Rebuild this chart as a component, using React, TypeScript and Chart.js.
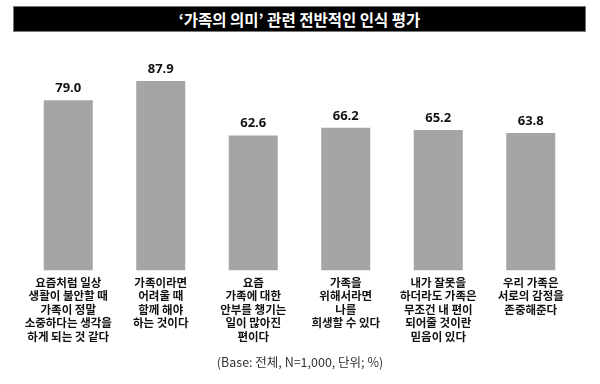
import React, { useEffect, useRef } from "react";
import { Chart, registerables } from "chart.js";

Chart.register(...registerables);

const titleText = "‘가족의 의미’ 관련 전반적인 인식 평가";
const footnoteText = "(Base: 전체, N=1,000, 단위; %)";

const categories: string[][] = [
  ["요즘처럼 일상", "생활이 불안할 때", "가족이 정말", "소중하다는 생각을", "하게 되는 것 같다"],
  ["가족이라면", "어려울 때", "함께 해야", "하는 것이다"],
  ["요즘", "가족에 대한", "안부를 챙기는", "일이 많아진", "편이다"],
  ["가족을", "위해서라면", "나를", "희생할 수 있다"],
  ["내가 잘못을", "하더라도 가족은", "무조건 내 편이", "되어줄 것이란", "믿음이 있다"],
  ["우리 가족은", "서로의 감정을", "존중해준다"],
];
const values: number[] = [79.0, 87.9, 62.6, 66.2, 65.2, 63.8];

const valueLabelPlugin = {
  id: "valueLabels",
  afterDatasetsDraw(chart: any) {
    const ctx = chart.ctx;
    const meta = chart.getDatasetMeta(0);
    ctx.save();
    ctx.fillStyle = "#111";
    ctx.font = "bold 13px 'Open Sans', sans-serif";
    ctx.textAlign = "center";
    ctx.textBaseline = "middle";
    meta.data.forEach((bar: any, i: number) => {
      ctx.fillText(values[i].toFixed(1), bar.x, bar.y - 12);
    });
    ctx.restore();
  },
};

export default function App() {
  const ref = useRef<HTMLCanvasElement>(null);
  useEffect(() => {
    if (!ref.current) return;
    const chart = new Chart(ref.current, {
      type: "bar",
      data: {
        labels: categories,
        datasets: [
          {
            data: values,
            backgroundColor: "#a5a5a5",
            borderWidth: 0,
            barPercentage: 0.53,
            categoryPercentage: 1,
          },
        ],
      },
      options: {
        responsive: false,
        animation: false,
        layout: { padding: { top: 55, left: 22, right: 23, bottom: 36 } },
        plugins: { legend: { display: false }, title: { display: false }, tooltip: { enabled: false } },
        scales: {
          y: { display: false, min: 0, max: 100 },
          x: {
            grid: { display: false, drawTicks: false },
            border: { display: false },
            ticks: {
              color: "#111",
              padding: 5,
              maxRotation: 0,
              autoSkip: false,
              font: { family: "'Noto Sans CJK KR', sans-serif", size: 11.5, weight: "bold", lineHeight: 1.174 },
            },
          },
        },
      },
      plugins: [valueLabelPlugin],
    });
    return () => chart.destroy();
  }, []);

  return (
    <div style={{ position: "fixed", left: 0, top: 0, width: 600, height: 384, background: "#fff", overflow: "hidden" }}>
      <canvas ref={ref} width={600} height={384} style={{ position: "absolute", left: 0, top: 0, width: 600, height: 384 }} />
      <div
        style={{
          position: "absolute",
          left: 13,
          top: 6,
          width: 571,
          height: 24,
          background: "#000",
          border: "1px solid #777",
          color: "#fff",
          fontFamily: "'Noto Sans CJK KR', sans-serif",
          fontWeight: "bold",
          fontSize: 15.5,
          lineHeight: "24px",
          textAlign: "center",
        }}
      >
        {titleText}
      </div>
      <div
        style={{
          position: "absolute",
          left: 0,
          top: 354,
          width: 600,
          textAlign: "center",
          color: "#333",
          fontFamily: "'Noto Sans CJK KR', sans-serif",
          fontSize: 12.5,
          lineHeight: "16px",
        }}
      >
        {footnoteText}
      </div>
    </div>
  );
}
